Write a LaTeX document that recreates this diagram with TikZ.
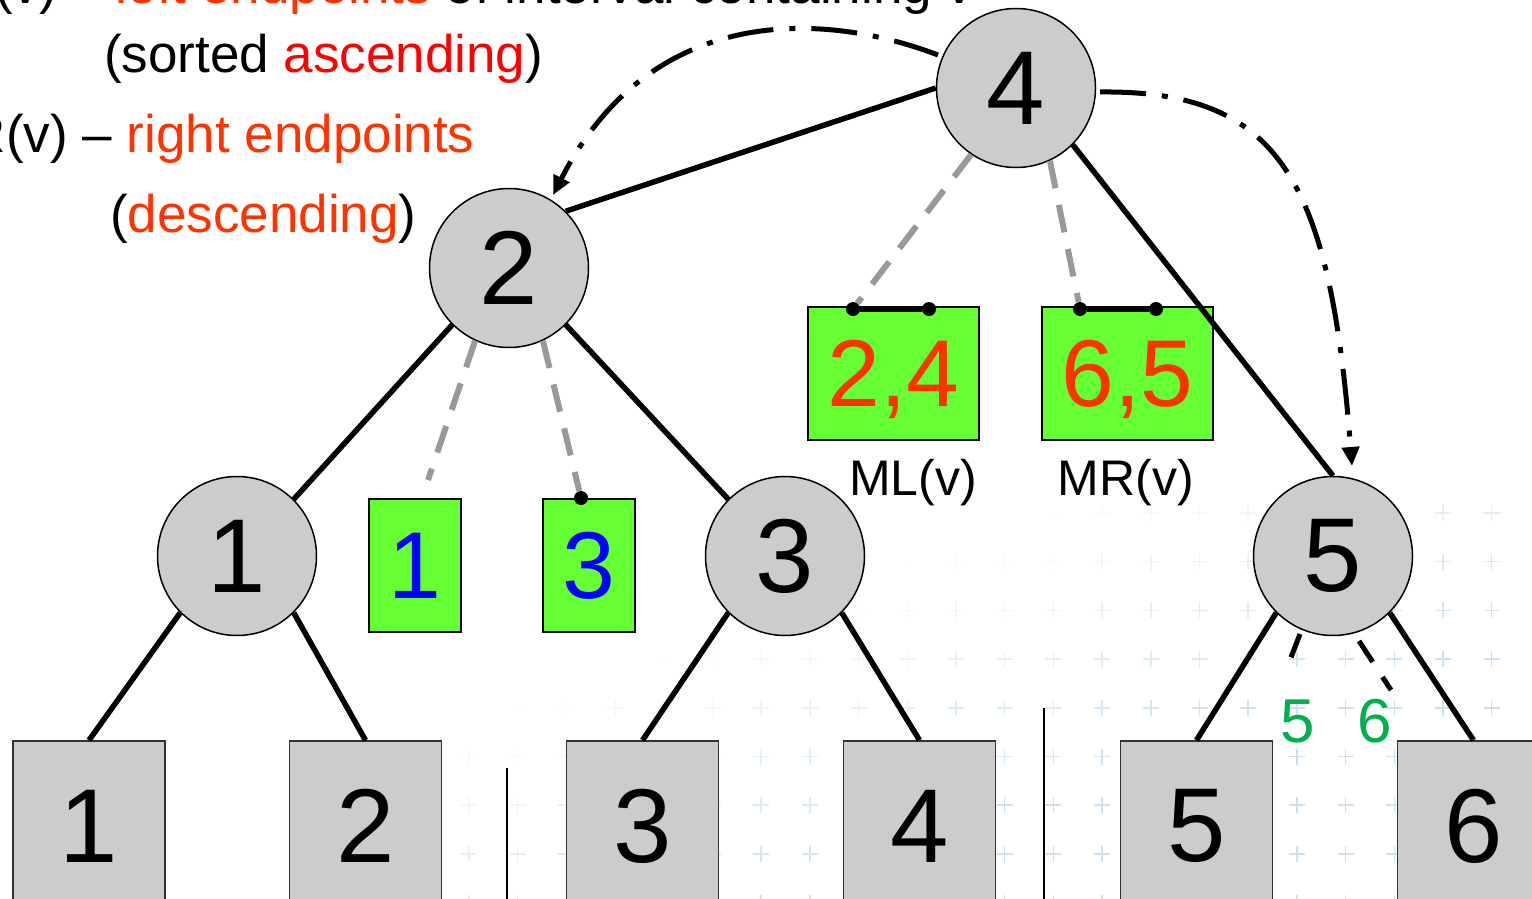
\documentclass[tikz,border=0pt]{standalone}
\usepackage{fontspec}
\setmainfont{Liberation Sans}
\usetikzlibrary{arrows.meta}
\definecolor{nodegray}{HTML}{CCCCCC}
\definecolor{boxgreen}{HTML}{66FF33}
\definecolor{orangered}{HTML}{FF3300}
\definecolor{dashgray}{HTML}{999999}
\definecolor{labelgreen}{HTML}{00B050}
\definecolor{crossblue}{HTML}{A9CCE6}
\begin{document}
\begin{tikzpicture}[x=1pt,y=-1pt,
  circ/.style={circle, draw=black, line width=1.5pt, fill=nodegray, minimum size=159pt, inner sep=0pt, font=\fontsize{105}{105}\selectfont},
  leafbox/.style={rectangle, draw=black!80, line width=1.5pt, fill=nodegray, minimum width=152pt, minimum height=170pt, inner sep=0pt, font=\fontsize{105}{105}\selectfont},
  gbox/.style={rectangle, draw=black, line width=1.5pt, fill=boxgreen, inner sep=0pt, text depth=0pt, minimum height=133pt, font=\fontsize{95}{95}\selectfont},
  dotnode/.style={circle, fill=black, inner sep=0pt, minimum size=14pt},
  edge/.style={line width=5.5pt, black},
  graydash/.style={line width=6pt, dashgray, dash pattern=on 28pt off 17pt},
  blackdash/.style={line width=5pt, black, dash pattern=on 25pt off 18pt},
  dashdotarrow/.style={line width=5pt, black, dash pattern=on 46pt off 16pt on 6pt off 16pt, -{Triangle[length=19pt,width=17pt]}},
  txt/.style={inner sep=0pt, font=\fontsize{53}{53}\selectfont, anchor=base west},
  lab/.style={inner sep=0pt, font=\fontsize{50}{50}\selectfont, anchor=base}
]
\useasboundingbox (0,0) rectangle (1532,899);

% faint background crosses
\foreach \i in {0,...,22} {
  \foreach \j in {0,...,8} {
    \pgfmathsetmacro\cx{469+48.7*\i}
    \pgfmathsetmacro\cy{513+48.7*\j}
    \pgfmathsetmacro\op{0.6*max(0,min(1,(\cx-650)/800+(\cy-500)/300-0.5))}
    \draw[crossblue, line width=1.5pt, opacity=\op] (\cx-8,\cy) -- (\cx+8,\cy) (\cx,\cy-8) -- (\cx,\cy+8);
  }
}

% separators
\draw[line width=1.5pt] (507,768) -- (507,905);
\draw[line width=1.5pt] (1044,708) -- (1044,905);

% text
\node[txt] (t1) at (-5,4) {\llap{ML}(v) – \textcolor{orangered}{left endpoints} of interval containing v};
\node[txt] (t2) at (104,73) {(sorted \textcolor{red}{ascending})};
\node[txt] (t3) at (6,152) {\llap{MR}(v) – \textcolor{orangered}{right endpoints}};
\node[txt] (t4) at (110,232) {(\textcolor{orangered}{descending})};

% tree nodes
\node[circ] (c4) at (1016,88) {4};
\node[circ] (c2) at (509,268) {2};
\node[circ] (c1) at (237,556) {1};
\node[circ] (c3) at (785,556) {3};
\node[circ] (c5) at (1333,556) {5};

\node[leafbox] (l1) at (89,826) {1};
\node[leafbox] (l2) at (365.5,826) {2};
\node[leafbox] (l3) at (642.5,826) {3};
\node[leafbox] (l4) at (919.5,826) {4};
\node[leafbox] (l5) at (1196.5,826) {5};
\node[leafbox] (l6) at (1473.5,826) {6};

% green boxes
\node[gbox, minimum width=171pt, text=orangered] (ml) at (893.5,373.5) {2,4};
\node[gbox, minimum width=171pt, text=orangered] (mr) at (1127.5,373.5) {6,5};
\node[gbox, minimum width=92pt, text=blue] (b1) at (415,565.5) {1};
\node[gbox, minimum width=92pt, text=blue] (b3) at (589,565.5) {3};

\node[lab] (mltxt) at (913,495) {ML(v)};
\node[lab] (mrtxt) at (1126,495) {MR(v)};
\node[lab, font=\fontsize{62}{62}\selectfont, text=labelgreen] (g5) at (1298,742) {5};
\node[lab, font=\fontsize{62}{62}\selectfont, text=labelgreen] (g6) at (1375,742) {6};

% endpoint dots
\node[dotnode] (d1) at (853,309) {};
\node[dotnode] (d2) at (929,309) {};
\node[dotnode] (d3) at (1080,309) {};
\node[dotnode] (d4) at (1156,309) {};
\node[dotnode] (d5) at (581,498) {};
\draw[line width=5pt] (d1) -- (d2);
\draw[line width=5pt] (d3) -- (d4);

% tree edges
\draw[edge] (c4.west) -- (c2.north east);
\draw[edge] (c4.south east) -- (c5.north);
\draw[edge] (c2.south west) -- (c1.north east);
\draw[edge] (c2.south east) -- (c3.north west);
\draw[edge] (c1.south west) -- (l1.north);
\draw[edge] (c1.south east) -- (l2.north);
\draw[edge] (c3.south west) -- (l3.north);
\draw[edge] (c3.south east) -- (l4.north);
\draw[edge] (c5.south west) -- (l5.north);
\draw[edge] (c5.south east) -- (l6.north);

% gray dashed links
\coordinate (g1end) at (428,480);
\draw[graydash] (c4.-124) -- (d1);
\draw[graydash] (c4.-65) -- (d3);
\draw[graydash] (c2.-115) -- (g1end);
\draw[graydash] (c2.-65) -- (d5);

% black dashed links from node 5
\coordinate (k5a) at (1300,634);
\coordinate (k5b) at (1290,660);
\coordinate (k6a) at (1359,641);
\coordinate (k6b) at (1391,690);
\draw[blackdash] (k5a) -- (k5b);
\draw[blackdash] (k6a) -- (k6b);

% dash-dot arrows
\coordinate (a1s) at (938,55);
\coordinate (a1e) at (553,195);
\coordinate (a2s) at (1100,92);
\coordinate (a2e) at (1352,466);
\draw[dashdotarrow] (a1s) .. controls (820,10) and (650,5) .. (a1e);
\draw[dashdotarrow] (a2s) .. controls (1280,90) and (1330,180) .. (a2e);
\end{tikzpicture}
\end{document}
